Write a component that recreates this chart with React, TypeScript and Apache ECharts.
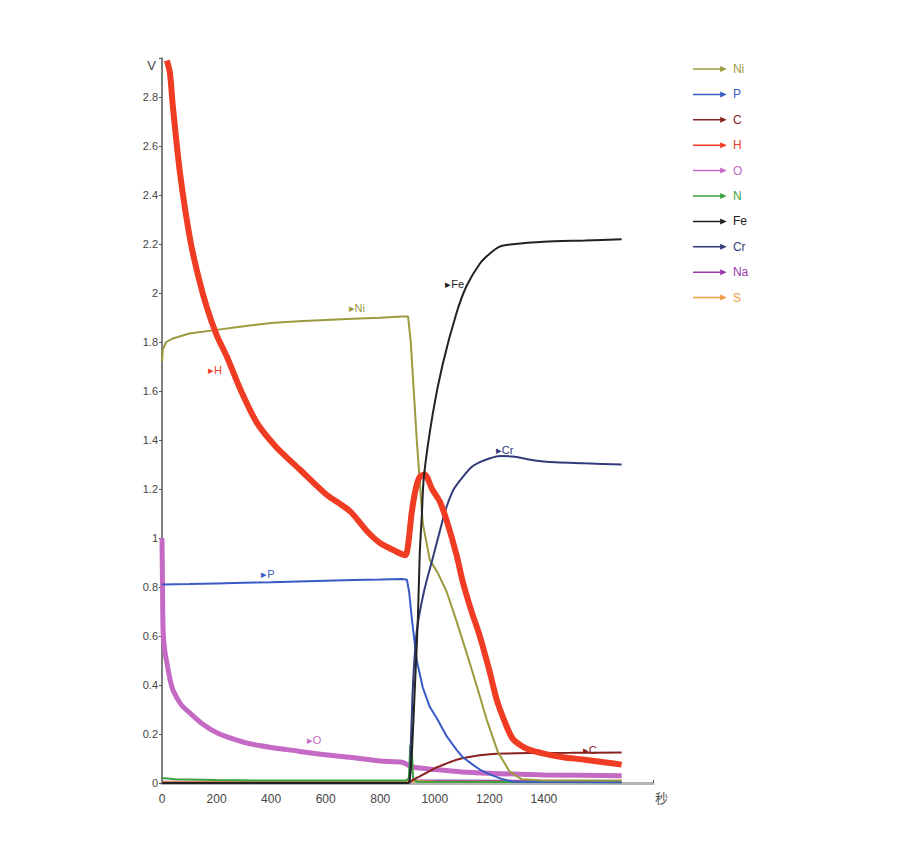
import React, { useEffect, useRef } from "react";
import * as echarts from "echarts";

// Element names (legend order) and colours
const names = ["Ni", "P", "C", "H", "O", "N", "Fe", "Cr", "Na", "S"];
const colors = ["#9c9a3e", "#3a5ac6", "#8a2222", "#f03c22", "#c46ac4", "#3ca23c", "#222222", "#323a7a", "#9a3aaa", "#f09a42"];
const widths = [2, 2, 2, 6, 5, 2, 2, 2, 2, 2];
const smoothOn = [false, false, true, true, true, false, true, true, false, false];

// [seconds, volts]
const niData = [[0,1.72],[3,1.77],[15,1.8],[40,1.815],[100,1.835],[200,1.85],[300,1.865],[400,1.878],[500,1.885],[600,1.89],[700,1.895],[800,1.9],[880,1.905],[902,1.905],[912,1.8],[934,1.4],[956,1.06],[982,0.91],[1010,0.86],[1044,0.78],[1080,0.66],[1117,0.53],[1150,0.41],[1190,0.26],[1230,0.13],[1275,0.045],[1320,0.015],[1400,0.01],[1685,0.01]];
const pData = [[0,0.81],[100,0.812],[200,0.815],[300,0.818],[400,0.82],[500,0.823],[600,0.826],[700,0.829],[800,0.831],[880,0.833],[898,0.83],[906,0.78],[916,0.67],[934,0.5],[956,0.39],[982,0.31],[1007,0.265],[1044,0.19],[1080,0.135],[1103,0.105],[1139,0.075],[1165,0.055],[1201,0.035],[1250,0.015],[1290,0.005],[1685,0.003]];
const cData = [[0,0],[905,0],[915,0.01],[950,0.03],[1000,0.06],[1044,0.08],[1080,0.095],[1120,0.105],[1165,0.113],[1201,0.117],[1260,0.12],[1348,0.122],[1500,0.123],[1685,0.125]];
const hData = [[18,2.95],[29,2.9],[40,2.76],[66,2.49],[103,2.22],[135,2.06],[165,1.94],[200,1.83],[238,1.74],[290,1.6],[348,1.47],[420,1.37],[505,1.28],[600,1.18],[689,1.11],[750,1.03],[799,0.98],[850,0.95],[892,0.93],[902,0.97],[915,1.1],[930,1.2],[945,1.25],[963,1.26],[990,1.2],[1018,1.15],[1044,1.07],[1080,0.93],[1103,0.82],[1135,0.7],[1165,0.6],[1200,0.46],[1227,0.34],[1260,0.24],[1286,0.18],[1320,0.15],[1348,0.135],[1400,0.12],[1469,0.105],[1550,0.095],[1620,0.085],[1685,0.075]];
const oData = [[0,1.0],[2,0.8],[4,0.62],[10,0.54],[18,0.49],[30,0.42],[40,0.38],[70,0.32],[103,0.285],[150,0.24],[201,0.205],[260,0.18],[322,0.16],[400,0.145],[500,0.13],[600,0.115],[689,0.105],[800,0.09],[880,0.085],[900,0.075],[919,0.065],[1000,0.055],[1100,0.045],[1200,0.04],[1400,0.033],[1685,0.03]];
const nData = [[0,0.02],[50,0.015],[200,0.012],[400,0.01],[600,0.01],[800,0.01],[895,0.01],[905,0.02],[910,0.15],[915,0.16],[920,0.02],[935,0.005],[1685,0.003]];
const feData = [[0,0],[902,0],[908,0.02],[916,0.12],[927,0.39],[938,0.67],[945,0.94],[952,1.08],[960,1.25],[993,1.51],[1029,1.71],[1080,1.92],[1117,2.03],[1165,2.12],[1200,2.16],[1238,2.19],[1286,2.2],[1400,2.21],[1550,2.215],[1685,2.22]];
const crData = [[0,0],[905,0],[912,0.15],[920,0.4],[934,0.62],[960,0.78],[993,0.92],[1026,1.06],[1044,1.13],[1070,1.2],[1103,1.25],[1135,1.29],[1165,1.31],[1200,1.325],[1240,1.335],[1286,1.333],[1350,1.32],[1410,1.312],[1550,1.305],[1685,1.3]];
const naData = [[0,0.005],[900,0.005],[920,0.01],[1685,0.008]];
const sData = [[0,0.003],[900,0.003],[920,0.008],[1000,0.006],[1685,0.004]];
const seriesData = [niData, pData, cData, hData, oData, nData, feData, crData, naData, sData];
const zOrder = [5, 4, 3, 6, 2, 2, 8, 5, 1, 1];

// Inline labels: series index, [seconds, volts]
const inlineLabels: [number, number[]][] = [
  [0, [714, 1.94]],
  [1, [388, 0.853]],
  [4, [557, 0.176]],
  [6, [1073, 2.037]],
  [7, [1256, 1.36]],
  [2, [1568, 0.135]],
  [3, [194, 1.686]],
];

const xTicks = { min: 0, max: 1800, interval: 200, lastLabel: 1400 };
const yTicks = { min: 0, max: 2.96, interval: 0.2, lastLabel: 2.8 };

const font = "'Liberation Sans Narrow', 'Liberation Sans', Arial, sans-serif";

export default function App() {
  const ref = useRef<HTMLDivElement>(null);
  useEffect(() => {
    if (!ref.current) return;
    const chart = echarts.init(ref.current, undefined, { renderer: "svg" });
    const series = names.map((n, i) => {
      const labels = inlineLabels.filter((l) => l[0] === i);
      return {
        name: n,
        type: "line",
        data: seriesData[i],
        showSymbol: false,
        symbol: "none",
        smooth: smoothOn[i] ? 0.25 : false,
        z: zOrder[i],
        color: colors[i],
        lineStyle: { color: colors[i], width: widths[i] },
        itemStyle: { color: colors[i] },
        markPoint: labels.length
          ? {
              symbol: "circle",
              symbolSize: 1,
              itemStyle: { color: "rgba(0,0,0,0)" },
              label: {
                show: true,
                position: "inside",
                formatter: "▸" + n,
                color: colors[i],
                fontSize: 11,
                fontFamily: font,
              },
              data: labels.map((l) => ({ coord: l[1] })),
            }
          : undefined,
      };
    });
    chart.setOption({
      animation: false,
      backgroundColor: "#ffffff",
      grid: { left: 162, right: 247, top: 58, bottom: 67, containLabel: false },
      legend: {
        orient: "vertical",
        left: 688,
        top: 58,
        itemWidth: 36,
        itemHeight: 6,
        itemGap: 13.4,
        icon: "path://M0,3.2 L30,3.2 L30,4.8 L0,4.8 Z M29,0.8 L36,4 L29,7.2 Z",
        textStyle: { fontSize: 12, fontFamily: font },
        data: names.map((n, i) => ({ name: n, textStyle: { color: colors[i] } })),
      },
      xAxis: {
        type: "value",
        min: xTicks.min,
        max: xTicks.max,
        interval: xTicks.interval,
        name: "秒",
        nameLocation: "end",
        nameGap: 2,
        nameTextStyle: {
          color: "#555",
          fontSize: 13,
          fontFamily: "'Noto Sans CJK SC', sans-serif",
          verticalAlign: "top",
          padding: [8, 0, 0, 0],
        },
        axisLine: { show: true, lineStyle: { color: "#b4b4b4", width: 3 } },
        axisTick: { show: true, inside: true, length: 3, lineStyle: { color: "#555" } },
        axisLabel: {
          color: "#444",
          fontSize: 12,
          fontFamily: font,
          margin: 10,
          formatter: (v: number) => (v <= xTicks.lastLabel ? String(v) : ""),
        },
        splitLine: { show: false },
      },
      yAxis: {
        type: "value",
        min: yTicks.min,
        max: yTicks.max,
        interval: yTicks.interval,
        name: "V",
        nameLocation: "end",
        nameGap: -14,
        nameTextStyle: {
          color: "#444",
          fontSize: 13,
          fontFamily: font,
          align: "right",
          padding: [0, 6, 0, 0],
        },
        axisLine: { show: true, lineStyle: { color: "#555", width: 1.5 } },
        axisTick: { show: true, length: 3, lineStyle: { color: "#555" } },
        axisLabel: {
          color: "#444",
          fontSize: 11,
          fontFamily: font,
          margin: 4,
          formatter: (v: number) => (v > yTicks.lastLabel + 0.01 ? "" : String(+v.toFixed(1))),
        },
        splitLine: { show: false },
      },
      series,
    });
    return () => chart.dispose();
  }, []);
  return (
    <div
      ref={ref}
      style={{ position: "fixed", left: 0, top: 0, width: 900, height: 850, background: "#fff" }}
    />
  );
}
